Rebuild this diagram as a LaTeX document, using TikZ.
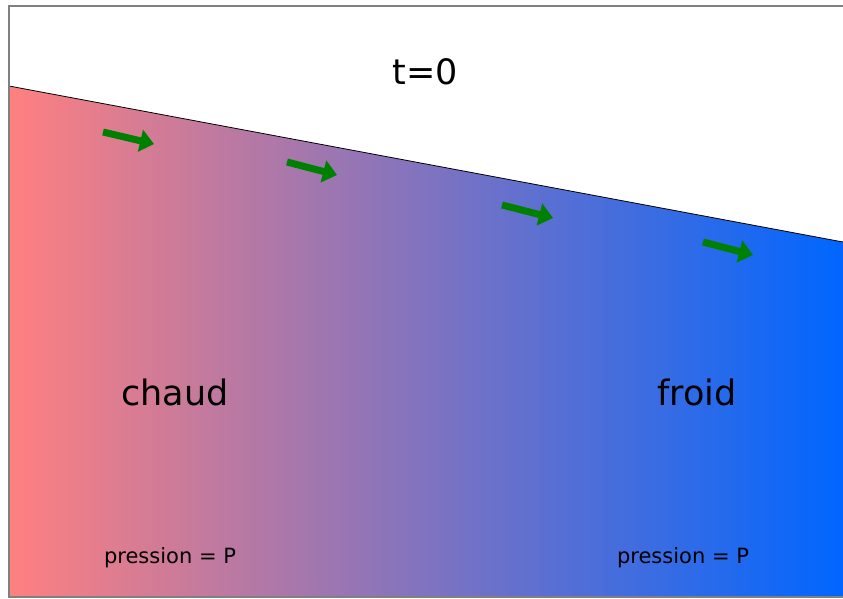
\documentclass[tikz,border=0pt]{standalone}
\usepackage{fontspec}
\setmainfont{DejaVu Sans}
\usetikzlibrary{arrows.meta}
\definecolor{hot}{RGB}{255,128,128}
\definecolor{mid}{RGB}{160,100,175}
\definecolor{cold}{RGB}{0,102,255}
\definecolor{arrowgreen}{RGB}{0,128,0}
\definecolor{framegray}{RGB}{128,128,128}
\tikzset{
  flowarrow/.style={draw=arrowgreen, line width=7pt,
    -{Triangle[length=14pt,width=22pt]}},
  bigtxt/.style={font=\fontsize{35}{40}\selectfont, inner sep=0pt},
  smalltxt/.style={font=\fontsize{21}{24}\selectfont, inner sep=0pt},
}
\begin{document}
\begin{tikzpicture}[x=1pt,y=-1pt]
\useasboundingbox (0,0) rectangle (843,599);
\fill[white] (0,0) rectangle (843,599);
\shade[left color=hot, middle color=mid, right color=cold] (9,86) -- (843,242) -- (843,597) -- (9,597) -- cycle;
\draw[black, line width=0.8pt] (9,86) -- (843,242);
\draw[framegray, line width=1.5pt] (843,6) -- (9,6) -- (9,597) -- (843,597);
\node[bigtxt] (t0) at (425,72) {t=0};
\node[bigtxt] (chaud) at (175,392) {chaud};
\node[bigtxt] (froid) at (697,392) {froid};
\node[smalltxt] (pl) at (170,558) {pression = P};
\node[smalltxt] (pr) at (683,558) {pression = P};
\coordinate (a1s) at (103,132); \coordinate (a1e) at (154,144);
\coordinate (a2s) at (287,162); \coordinate (a2e) at (337,175);
\coordinate (a3s) at (502,205); \coordinate (a3e) at (553,218);
\coordinate (a4s) at (703,242); \coordinate (a4e) at (753,255);
\draw[flowarrow] (a1s) -- (a1e);
\draw[flowarrow] (a2s) -- (a2e);
\draw[flowarrow] (a3s) -- (a3e);
\draw[flowarrow] (a4s) -- (a4e);
\end{tikzpicture}
\end{document}
